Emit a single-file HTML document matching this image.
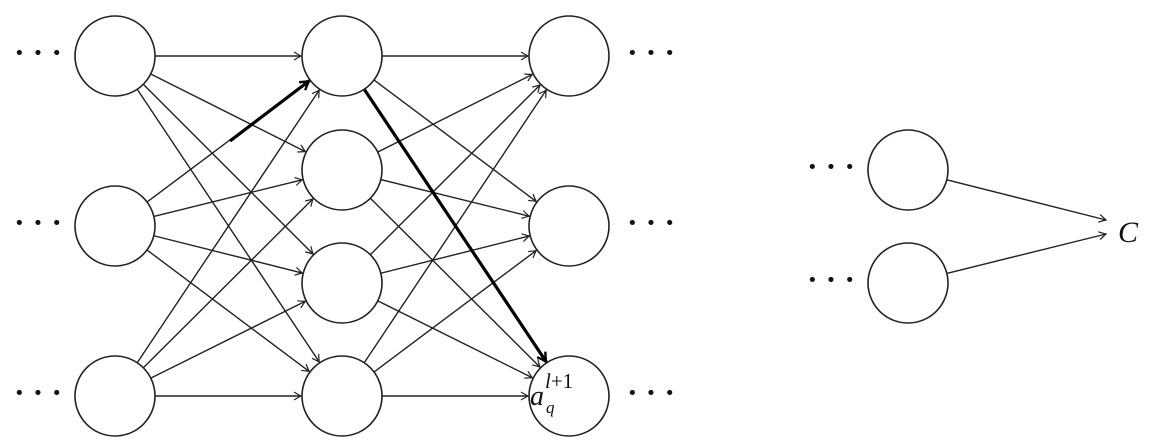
<!DOCTYPE html>
<html><head><meta charset="utf-8"><style>
body{margin:0;background:#fff;width:1158px;height:444px;overflow:hidden}
svg{display:block}
text{font-family:"Liberation Serif",serif;fill:#111}
</style></head><body>
<svg id="s" width="1158" height="444" viewBox="0 0 1158 444" xmlns="http://www.w3.org/2000/svg">
<defs>
<marker id="a" viewBox="-8 -5 10 10" refX="0" refY="0" markerWidth="10" markerHeight="10" markerUnits="userSpaceOnUse" orient="auto">
<path d="M-7,-4 Q-2,-1 0,0 Q-2,1 -7,4" fill="none" stroke="#222" stroke-width="1.2"/>
</marker>
<marker id="b" viewBox="-10 -6 12 12" refX="0" refY="0" markerWidth="12" markerHeight="12" markerUnits="userSpaceOnUse" orient="auto">
<path d="M-9,-5 Q-3,-1 0,0 Q-3,1 -9,5" fill="none" stroke="#000" stroke-width="2.4"/>
</marker>
</defs>
<g id="e" stroke="#222" stroke-width="1.4" fill="none"></g>
<g id="n" stroke="#222" stroke-width="1.6" fill="#fff"></g>
<g font-size="32" font-weight="bold" fill="#111">
<text x="14" y="63">· · ·</text><text x="14" y="233">· · ·</text><text x="14" y="403">· · ·</text>
<text x="627" y="63">· · ·</text><text x="627" y="233">· · ·</text><text x="627" y="403">· · ·</text>
<text x="807" y="177">· · ·</text><text x="807" y="290">· · ·</text>
</g>
<text x="1118" y="242" font-size="30" font-style="italic">C</text>
<text x="530" y="405" font-size="28" font-style="italic">a</text>
<text x="546" y="413" font-size="17" font-style="italic">q</text>
<text x="545" y="388" font-size="21"><tspan font-style="italic">l</tspan>+1</text>
</svg>
<script>
var NS="http://www.w3.org/2000/svg",R=40;
var L1=[[115,56],[115,226],[115,396]],L2=[[342,56],[342,170],[342,283],[342,396]],L3=[[569,56],[569,226],[569,396]],RN=[[908,170],[908,283]];
var e=document.getElementById('e'),n=document.getElementById('n');
function line(p,q,sw,mk,col,trimA,trimB){var dx=q[0]-p[0],dy=q[1]-p[1],d=Math.hypot(dx,dy);
var x1=p[0]+dx/d*trimA,y1=p[1]+dy/d*trimA,x2=q[0]-dx/d*trimB,y2=q[1]-dy/d*trimB;
var l=document.createElementNS(NS,'line');l.setAttribute('x1',x1);l.setAttribute('y1',y1);l.setAttribute('x2',x2);l.setAttribute('y2',y2);
l.setAttribute('stroke',col);l.setAttribute('stroke-width',sw);l.setAttribute('marker-end','url(#'+mk+')');e.appendChild(l);}
L1.forEach(p=>L2.forEach(q=>line(p,q,1.4,'a','#222',R,R+1)));
L2.forEach(p=>L3.forEach(q=>line(p,q,1.4,'a','#222',R,R+1)));
line(RN[0],[1106,220],1.4,'a','#222',R,0);
line(RN[1],[1106,234],1.4,'a','#222',R,0);
line([230,141],[342,56],3.2,'b','#000',0,R+1);
line([342,56],[569,396],3.2,'b','#000',R,R+1);
L1.concat(L2,L3,RN).forEach(p=>{var c=document.createElementNS(NS,'circle');c.setAttribute('cx',p[0]);c.setAttribute('cy',p[1]);c.setAttribute('r',R);n.appendChild(c);});
</script>
</body></html>
